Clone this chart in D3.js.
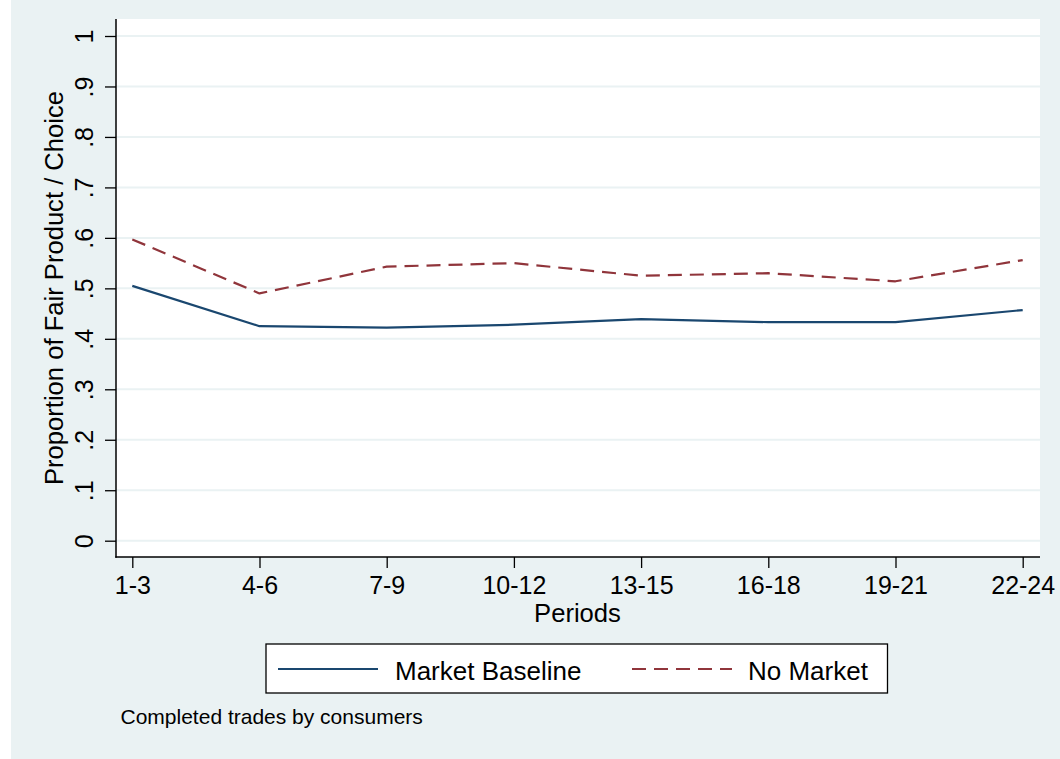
<!DOCTYPE html>
<html>
<head>
<meta charset="utf-8">
<script src="https://cdn.jsdelivr.net/npm/d3@7"></script>
<style>
  html, body { margin: 0; padding: 0; background: #ffffff; }
  svg { display: block; font-family: "Liberation Sans", Arial, Helvetica, sans-serif; }
</style>
</head>
<body>
<svg id="chart" width="1060" height="759"></svg>
<script>
// ---- data ----
const categories = ["1-3", "4-6", "7-9", "10-12", "13-15", "16-18", "19-21", "22-24"];
const marketBaseline = [0.505, 0.425, 0.422, 0.428, 0.439, 0.433, 0.433, 0.457];
const noMarket = [0.597, 0.490, 0.543, 0.550, 0.525, 0.530, 0.514, 0.556];
const yTickValues = [0, 0.1, 0.2, 0.3, 0.4, 0.5, 0.6, 0.7, 0.8, 0.9, 1];
const yTickLabels = ["0", ".1", ".2", ".3", ".4", ".5", ".6", ".7", ".8", ".9", "1"];
const seriesNames = ["Market Baseline", "No Market"];
const xTitle = "Periods";
const yTitle = "Proportion of Fair Product / Choice";
const note = "Completed trades by consumers";

// ---- layout ----
const svg = d3.select("#chart");
const W = 1060, H = 759;
const plot = { left: 116, top: 19, right: 1040, bottom: 557 };
const bgColor = "#eaf2f3";
const colors = ["#1a476f", "#90353b"];

svg.append("rect").attr("x", 0).attr("y", 0).attr("width", W).attr("height", H).attr("fill", "#ffffff");
svg.append("rect").attr("x", 11).attr("y", 0).attr("width", W - 11).attr("height", H).attr("fill", bgColor);
svg.append("rect").attr("x", plot.left).attr("y", plot.top)
  .attr("width", plot.right - plot.left).attr("height", plot.bottom - plot.top).attr("fill", "#ffffff");

const x = d3.scalePoint().domain(categories).range([132.3, 1022.7]);
const y = d3.scaleLinear().domain([0, 1]).range([540.7, 36]);

// gridlines
svg.append("g").selectAll("line").data(yTickValues).join("line")
  .attr("x1", plot.left).attr("x2", plot.right)
  .attr("y1", d => y(d)).attr("y2", d => y(d))
  .attr("stroke", bgColor).attr("stroke-width", 2);

// y axis
const yAxis = d3.axisLeft(y).tickValues(yTickValues)
  .tickFormat((d, i) => yTickLabels[i]).tickSize(11).tickSizeOuter(0);
const gy = svg.append("g").attr("transform", `translate(${plot.left},0)`).call(yAxis);
gy.select(".domain").remove();
gy.selectAll(".tick line").attr("stroke", "#000").attr("stroke-width", 1.3);
gy.selectAll(".tick text")
  .attr("transform", "rotate(-90)")
  .attr("x", 0).attr("y", -23).attr("dy", 0)
  .attr("text-anchor", "middle")
  .attr("fill", "#000")
  .style("font-size", "25px").style("font-family", "Liberation Sans, Arial, Helvetica, sans-serif");

// x axis
const xAxis = d3.axisBottom(x).tickSize(11).tickSizeOuter(0);
const gx = svg.append("g").attr("transform", `translate(0,${plot.bottom})`).call(xAxis);
gx.select(".domain").remove();
gx.selectAll(".tick line").attr("stroke", "#000").attr("stroke-width", 1.3);
gx.selectAll(".tick text")
  .attr("y", 37).attr("dy", 0)
  .attr("fill", "#000")
  .style("font-size", "25px").style("font-family", "Liberation Sans, Arial, Helvetica, sans-serif");

// axis lines
svg.append("line").attr("x1", plot.left).attr("x2", plot.left).attr("y1", plot.top).attr("y2", plot.bottom + 0.7)
  .attr("stroke", "#000").attr("stroke-width", 1.5);
svg.append("line").attr("x1", plot.left - 0.7).attr("x2", plot.right).attr("y1", plot.bottom).attr("y2", plot.bottom)
  .attr("stroke", "#000").attr("stroke-width", 1.5);

// lines
const line = d3.line().x((d, i) => x(categories[i])).y(d => y(d));
svg.append("path").datum(marketBaseline).attr("d", line)
  .attr("fill", "none").attr("stroke", colors[0]).attr("stroke-width", 2.2).attr("stroke-linejoin", "round");
svg.append("path").datum(noMarket).attr("d", line)
  .attr("fill", "none").attr("stroke", colors[1]).attr("stroke-width", 2.2)
  .attr("stroke-dasharray", "14,8").attr("stroke-linejoin", "round");

// axis titles
svg.append("text").attr("x", 577.5).attr("y", 622).attr("text-anchor", "middle")
  .style("font-size", "25.6px").attr("fill", "#000").text(xTitle);
svg.append("text").attr("transform", `translate(63,288) rotate(-90)`).attr("text-anchor", "middle")
  .style("font-size", "25.6px").attr("fill", "#000").text(yTitle);

// legend
const lg = svg.append("g");
lg.append("rect").attr("x", 266).attr("y", 644).attr("width", 621.5).attr("height", 49)
  .attr("fill", "#fff").attr("stroke", "#000").attr("stroke-width", 1.3);
const legendItems = [
  { lx: 278, tx: 395, dash: null },
  { lx: 632, tx: 748, dash: "14,8" }
];
legendItems.forEach((it, i) => {
  const l = lg.append("line").attr("x1", it.lx).attr("x2", it.lx + 100).attr("y1", 669).attr("y2", 669)
    .attr("stroke", colors[i]).attr("stroke-width", 2.2);
  if (it.dash) l.attr("stroke-dasharray", it.dash);
  lg.append("text").attr("x", it.tx).attr("y", 680).style("font-size", "26px").attr("fill", "#000").text(seriesNames[i]);
});

// note
svg.append("text").attr("x", 120.5).attr("y", 724.3).style("font-size", "21px").attr("fill", "#000").text(note);
</script>
</body>
</html>
